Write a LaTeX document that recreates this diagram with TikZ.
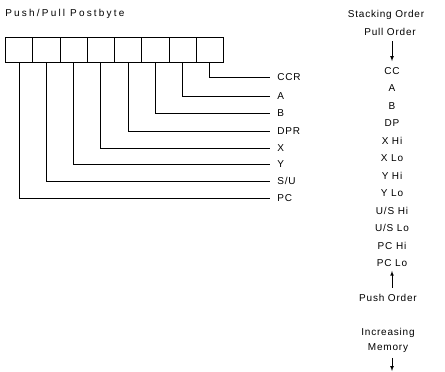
\documentclass[tikz,border=0pt]{standalone}
\usepackage{fontspec}
\setmainfont{Liberation Sans}[LetterSpace=8]
\newfontfamily\titlefont{Liberation Sans}[LetterSpace=22]

\tikzset{
  reg/.style={draw, line width=0.8pt, minimum width=27.25pt, minimum height=25pt, inner sep=0pt, anchor=north west},
  lbl/.style={anchor=west, inner xsep=7pt, inner ysep=1pt},
  item/.style={inner sep=1pt}
}

\begin{document}
\begin{tikzpicture}[x=1pt, y=-1pt, font=\fontsize{10}{12}\selectfont, line width=0.7pt]
\useasboundingbox (0,0) rectangle (445,372);
% postbyte
\node[anchor=west, inner sep=0pt, font=\titlefont\fontsize{10}{12}\selectfont] (title) at (5,14) {Push/Pull Postbyte};
\foreach \i in {1,...,8}
  \node[reg] (b\i) at ({5+27.25*(\i-1)},37) {};
\foreach \name/\txt/\y/\b in {ccr/CCR/77/8, a/A/96/7, b/B/113/6, dpr/DPR/131/5,
    x/X/148/4, y/Y/164/3, su/{S/U}/181/2, pc/PC/198/1}
  {
  \node[lbl] (\name) at (270,\y) {\txt};
  \draw (b\b.south) |- (\name.west);
  }
% stacking order
\node[item] (stk) at (386,15) {Stacking Order};
\node[item] (pull) at (390,32) {Pull Order};
\foreach \name/\txt [count=\k] in {cc/CC, sa/A, sb/B, dp/DP, xhi/X Hi, xlo/X Lo,
    yhi/Y Hi, ylo/Y Lo, ushi/{U/S Hi}, uslo/{U/S Lo}, pchi/PC Hi, pclo/PC Lo}
  \node[item] (\name) at (392,{71+17.45*(\k-1)}) {\txt};
\node[item] (push) at (388,298) {Push Order};
\node[item] (inc) at (388,333) {Increasing};
\node[item] (mem) at (388,348) {Memory};
\coordinate (memend) at (392,371);
\draw[->, >=latex, shorten <=4pt, shorten >=5pt] (pull.south -| cc) -- (cc.north);
\draw[->, >=latex, shorten <=5pt, shorten >=3pt] (push.north -| pclo) -- (pclo.south);
\draw[->, >=latex, shorten <=4pt] (mem.south -| memend) -- (memend);
\end{tikzpicture}
\end{document}
